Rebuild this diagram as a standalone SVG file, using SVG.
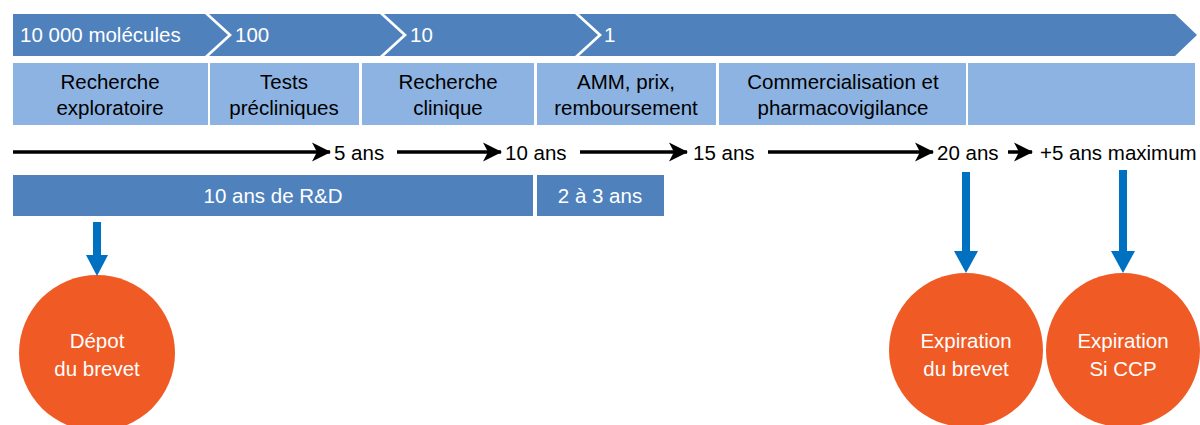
<svg xmlns="http://www.w3.org/2000/svg" width="1200" height="425" viewBox="0 0 1200 425">
<defs>
<style>
text{font-family:"Liberation Sans",Arial,sans-serif;font-size:20.5px}
.w{fill:#fff}
.k{fill:#000}
.c{text-anchor:middle}
.band{fill:#4F81BD}
.box{fill:#8DB3E2}
.orng{fill:#F05A24}
.tl{stroke:#000;stroke-width:3.5;fill:none;marker-end:url(#ah)}
.bl{stroke:#0070C0;stroke-width:8;fill:none}
.blh{fill:#0070C0}
</style>
<marker id="ah" markerUnits="userSpaceOnUse" markerWidth="24" markerHeight="24" refX="20" refY="12" orient="auto" viewBox="0 0 24 24">
<path d="M2,2.5 L21,12 L2,21.5 L7,12 Z" fill="#000"/>
</marker>
</defs>
<rect width="1200" height="425" fill="#fff"/>
<g id="stages">
<polygon class="band" points="13,14 205,14 228,35 205,56 13,56"/>
<polygon class="band" points="209,14 380,14 403,35 380,56 209,56 232,35"/>
<polygon class="band" points="384,14 575,14 598,35 575,56 384,56 407,35"/>
<polygon class="band" points="579,14 1175,14 1197,35 1175,56 579,56 602,35"/>
<text class="w" x="20" y="42">10 000 molécules</text>
<text class="w" x="235" y="42">100</text>
<text class="w" x="410" y="42">10</text>
<text class="w" x="604" y="42">1</text>
</g>
<g id="phases">
<rect class="box" x="13" y="63" width="195" height="62"/>
<rect class="box" x="210" y="63" width="149" height="62"/>
<rect class="box" x="362" y="63" width="172" height="62"/>
<rect class="box" x="537" y="63" width="179" height="62"/>
<rect class="box" x="719" y="63" width="247" height="62"/>
<rect class="box" x="968" y="63" width="227" height="62"/>
<text class="k c" x="110" y="89">Recherche</text>
<text class="k c" x="110" y="115">exploratoire</text>
<text class="k c" x="284" y="89">Tests</text>
<text class="k c" x="284" y="115">précliniques</text>
<text class="k c" x="448" y="89">Recherche</text>
<text class="k c" x="448" y="115">clinique</text>
<text class="k c" x="626" y="89">AMM, prix,</text>
<text class="k c" x="626" y="115">remboursement</text>
<text class="k c" x="843" y="89">Commercialisation et</text>
<text class="k c" x="843" y="115">pharmacovigilance</text>
</g>
<g id="timeline-labels">
<text class="k" x="334" y="160">5 ans</text>
<text class="k" x="505" y="160">10 ans</text>
<text class="k" x="693" y="160">15 ans</text>
<text class="k" x="937" y="160">20 ans</text>
<text class="k" x="1040" y="160">+5 ans maximum</text>
</g>
<g id="durations">
<rect class="band" x="13" y="175" width="520" height="41"/>
<rect class="band" x="537" y="175" width="127" height="41"/>
<text class="w c" x="273" y="203">10 ans de R&amp;D</text>
<text class="w c" x="600" y="203">2 à 3 ans</text>
</g>
<g id="depot">
<circle class="orng" cx="97" cy="353" r="78"/>
<text class="w c" x="97" y="348">Dépot</text>
<text class="w c" x="97" y="376">du brevet</text>
</g>
<g id="expiration-brevet">
<circle class="orng" cx="966" cy="350" r="77"/>
<text class="w c" x="966" y="348">Expiration</text>
<text class="w c" x="966" y="376">du brevet</text>
</g>
<g id="expiration-ccp">
<circle class="orng" cx="1123" cy="350" r="77"/>
<text class="w c" x="1123" y="348">Expiration</text>
<text class="w c" x="1123" y="376">Si CCP</text>
</g>
<g id="connectors">
<line class="tl" x1="13" y1="152" x2="330" y2="152"/>
<line class="tl" x1="397" y1="152" x2="501" y2="152"/>
<line class="tl" x1="580" y1="152" x2="687" y2="152"/>
<line class="tl" x1="768" y1="152" x2="933" y2="152"/>
<line class="tl" x1="1008" y1="152" x2="1032" y2="152"/>
<line class="bl" x1="97" y1="222" x2="97" y2="256"/>
<polygon class="blh" points="86,255 108,255 97,276"/>
<line class="bl" x1="966" y1="172" x2="966" y2="252"/>
<polygon class="blh" points="954,251 978,251 966,273"/>
<line class="bl" x1="1123" y1="170" x2="1123" y2="252"/>
<polygon class="blh" points="1111,251 1135,251 1123,273"/>
</g>
</svg>
